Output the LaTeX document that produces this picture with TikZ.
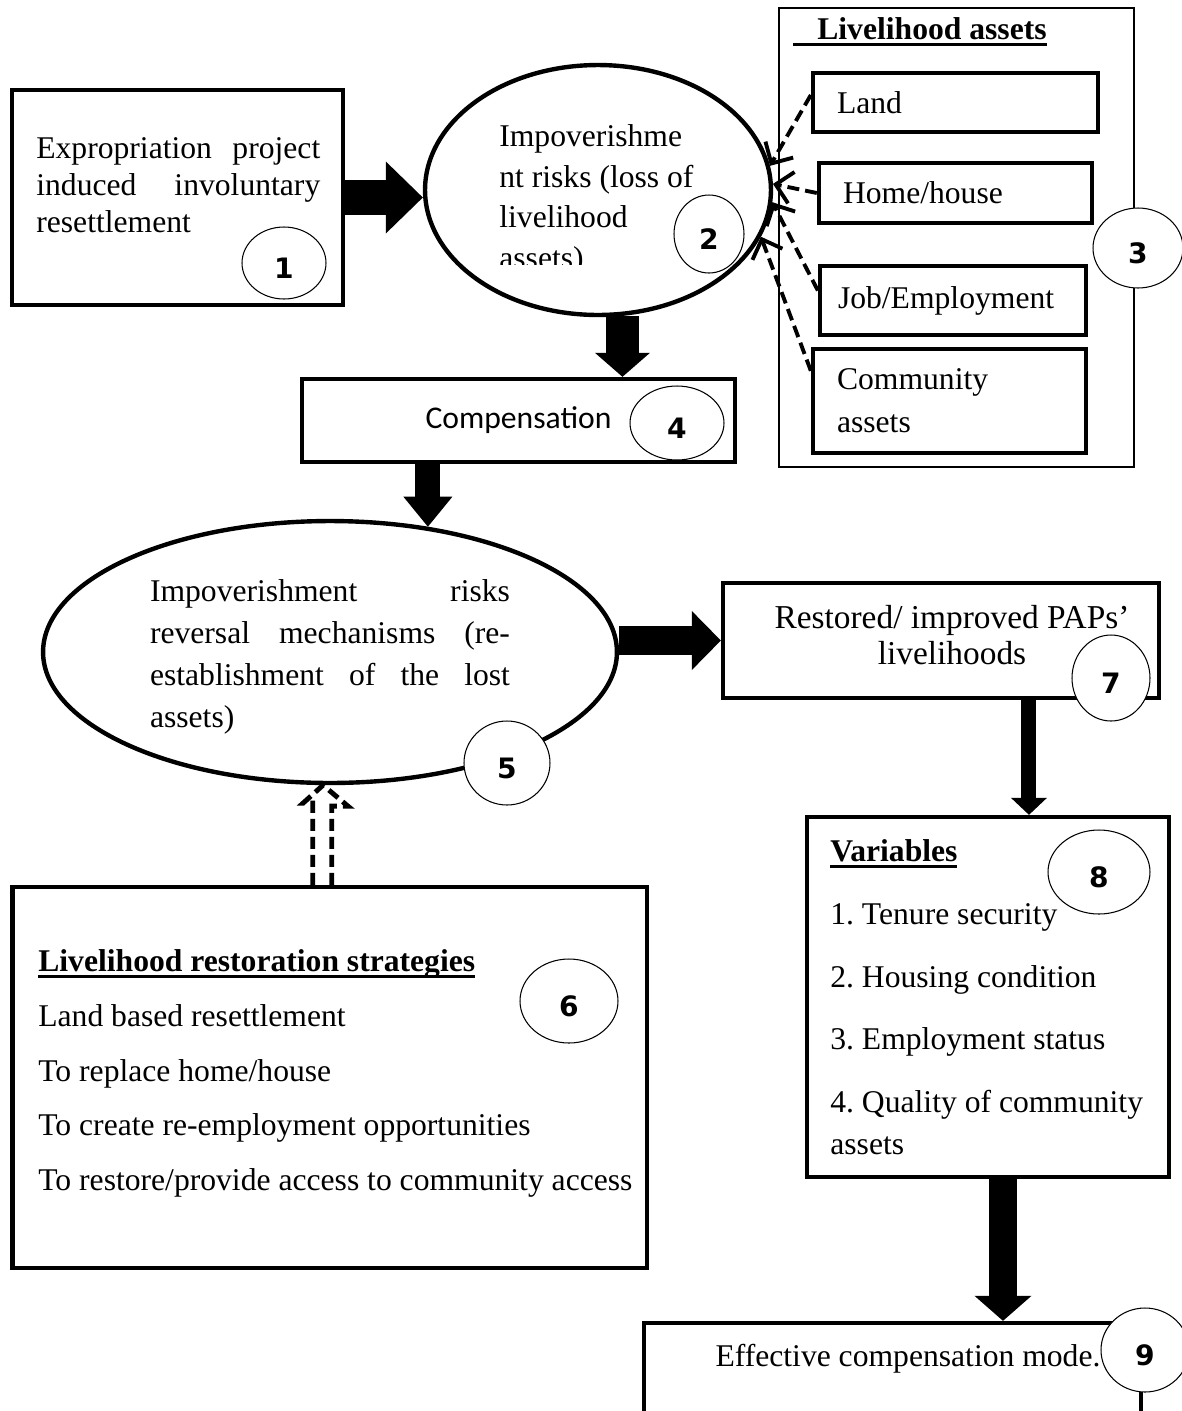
\documentclass[tikz,border=0pt]{standalone}
\usepackage{fontspec}
\setmainfont{Liberation Serif}
\newfontfamily\carlito{Carlito}
\newfontfamily\numfont{DejaVu Sans}
\usetikzlibrary{shapes.geometric,arrows.meta}
\tolerance=10000
\hyphenpenalty=10000
\frenchspacing
% underline close to the baseline
\newcommand{\ulbox}[1]{\setbox0\hbox{#1}\rlap{\rule[-0.13cm]{\wd0}{0.055cm}}\box0}

\begin{document}
\begin{tikzpicture}[x=0.02cm,y=-0.02cm,
  box/.style={draw, line width=2.5pt, inner sep=0pt},
  thinbox/.style={draw, line width=1pt, inner sep=0pt},
  oval/.style={ellipse, draw, line width=2.5pt, inner sep=0pt},
  num/.style={ellipse, draw, line width=0.6pt, fill=white, inner sep=0pt, text height=0.6cm, text depth=0cm, font=\numfont\bfseries\fontsize{16}{16}\selectfont},
  body/.style={inner sep=0pt, font=\fontsize{18}{21}\selectfont},
  fat/.style n args={3}{line width=#1, -{Triangle[width=#2,length=#3,line width=0pt]}},
  dashline/.style={line width=2.2pt, dash pattern=on 0.24cm off 0.12cm, -{Straight Barb[length=0.32cm,width=0.64cm]}},
  hollow/.style={line width=2.8pt, dash pattern=on 0.24cm off 0.12cm}]
\useasboundingbox (0,0) rectangle (1181,1411);

% 1 expropriation
\node[box, minimum width=6.62cm, minimum height=4.3cm] (exprop) at (177.5,197.5) {};
\node[body, text width=5.68cm, align=justify, anchor=north west] (exproptxt) at (36,137) {Expropriation project induced involuntary resettlement};

% 2 impoverishment risks
\node[oval, minimum width=6.92cm, minimum height=5cm] (risks) at (598,190) {};
\begin{scope}
\clip (425,65) rectangle (771,264);
\node[body, font=\fontsize{18}{23.2}\selectfont, align=left, anchor=north west] (riskstxt) at (499,124) {Impoverishme\\nt risks (loss of\\livelihood\\assets)};
\end{scope}

% 3 livelihood assets
\node[thinbox, minimum width=7.1cm, minimum height=9.18cm] (assets) at (956.5,237.5) {};
\node[body, anchor=base west] (assetstitle) at (793,39) {\ulbox{\hspace{0.48cm}\textbf{Livelihood assets}}};
\node[box, body, minimum width=5.7cm, minimum height=1.18cm, text width=4.74cm, align=left] (land) at (955.5,102.5) {Land};
\node[box, body, minimum width=5.46cm, minimum height=1.2cm, text width=4.5cm, align=left] (home) at (955.5,193) {Home/house};
\node[box, body, minimum width=5.32cm, minimum height=1.38cm, text width=4.6cm, align=left] (job) at (953,300.5) {Job/Employment};
\node[box, body, minimum width=5.46cm, minimum height=2.08cm, text width=4.5cm, align=left] (community) at (949.5,401) {Community\\[0.12cm]assets};

% 4 compensation
\node[box, minimum width=8.66cm, minimum height=1.66cm, font=\carlito\fontsize{18}{21}\selectfont] (comp) at (518.5,420.5) {Compensation};

% 5 reversal mechanisms
\node[oval, body, font=\fontsize{18}{24}\selectfont, minimum width=11.48cm, minimum height=5.24cm, text width=7.2cm, align=justify] (reversal) at (330,652) {\rule{0pt}{0.63cm}Impoverishment risks reversal mechanisms (re-establishment of the lost assets)};

% 6 strategies
\node[box, minimum width=12.69cm, minimum height=7.62cm] (strategies) at (329.75,1077.5) {};
\node[body, align=left, anchor=north west] (strattxt) at (38,949) {\ulbox{\textbf{Livelihood restoration strategies}}\\[0.36cm]Land based resettlement\\[0.36cm]To replace home/house\\[0.36cm]To create re-employment opportunities\\[0.36cm]To restore/provide access to community access};

% 7 restored livelihoods
\node[box, minimum width=8.72cm, minimum height=2.3cm] (restored) at (941,640.5) {};
\node[body, font=\fontsize{19}{20.5}\selectfont, align=center, anchor=north] (restoredtxt) at (952,605) {Restored/ improved PAPs'\\livelihoods};

% 8 variables
\node[box, minimum width=7.24cm, minimum height=7.2cm] (variables) at (988,997) {};
\node[body, align=left, anchor=north west] (vartxt) at (830,839) {\ulbox{\textbf{Variables}}\\[0.52cm]1. Tenure security\\[0.52cm]2. Housing condition\\[0.52cm]3. Employment status\\[0.52cm]4. Quality of community\\[0.1cm]assets};

% 9 effective compensation
\node[box, minimum width=9.94cm, minimum height=2.74cm] (effective) at (892.5,1391.5) {};
\node[body, anchor=base] (effectivetxt) at (908,1366) {Effective compensation mode.};

% block arrows
\draw[fat={0.7cm}{1.44cm}{0.74cm}] (exprop.east) -- (exprop.east -| risks.west);
\draw[fat={0.66cm}{1.1cm}{0.48cm}] (risks.-79) -- (risks.-79 |- comp.north);
\draw[fat={0.5cm}{0.98cm}{0.6cm}] (reversal.52 |- comp.south) -- (reversal.52);
\draw[fat={0.58cm}{1.18cm}{0.58cm}] (restored.west -| reversal.east) -- (restored.west);
\draw[fat={0.3cm}{0.72cm}{0.34cm}] ([xshift=1.76cm]restored.south) -- ([xshift=1.76cm]restored.south |- variables.north);
\draw[fat={0.56cm}{1.14cm}{0.5cm}] ([xshift=0.3cm]variables.south) -- ([xshift=0.3cm]variables.south |- effective.north);

% dashed links from the assets
\draw[dashline] ([yshift=0.15cm]land.west) -- (risks.8);
\draw[dashline] (home.west) -- (risks.2);
\draw[dashline] ([yshift=0.2cm]job.west) -- (risks.-4);
\draw[dashline] ([yshift=-0.48cm]community.north west) -- (risks.-16);

% hollow dashed arrow from the strategies
\coordinate (tip) at ([xshift=-0.14cm]reversal.south);
\draw[hollow] ([xshift=-0.34cm]strategies.north) |- ([xshift=-0.4cm,yshift=-0.36cm]tip) -- (tip) -- ([xshift=0.5cm,yshift=-0.42cm]tip) -| ([xshift=0.04cm]strategies.north);

% numbers
\node[num, minimum width=1.68cm, minimum height=1.44cm] (n1) at (284,263) {1};
\node[num, minimum width=1.4cm, minimum height=1.56cm] (n2) at (709,234) {2};
\node[num, minimum width=1.8cm, minimum height=1.6cm] (n3) at (1138,248) {3};
\node[num, minimum width=1.88cm, minimum height=1.48cm] (n4) at (677,423) {4};
\node[num, minimum width=1.72cm, minimum height=1.68cm] (n5) at (507,763) {5};
\node[num, minimum width=1.96cm, minimum height=1.68cm] (n6) at (569,1001) {6};
\node[num, minimum width=1.56cm, minimum height=1.72cm] (n7) at (1111,678) {7};
\node[num, minimum width=2.04cm, minimum height=1.68cm] (n8) at (1099,872) {8};
\node[num, minimum width=1.76cm, minimum height=1.68cm] (n9) at (1145,1350) {9};
\end{tikzpicture}
\end{document}
